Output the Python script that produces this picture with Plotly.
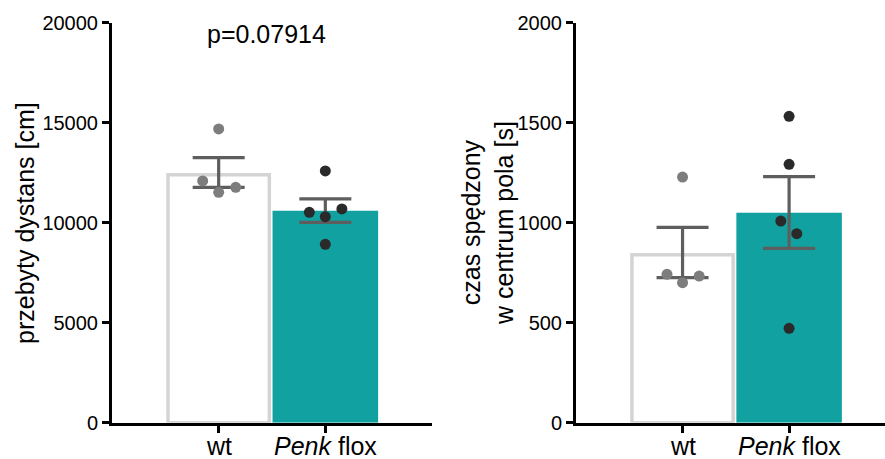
import plotly.graph_objects as go

# ---------------- data ----------------
groups = ["wt", "Penk flox"]
tick_text = ["wt", "<i>Penk</i> flox"]

# panel 1: distance travelled [cm]
dist_mean = [12400, 10600]
dist_err_plus = [850, 590]
dist_err_minus = [630, 580]
dist_wt = [14690, 12090, 11520, 11770]
dist_flox = [12590, 10520, 10300, 10690, 8920]
dist_ticks = [0, 5000, 10000, 15000, 20000]

# panel 2: time spent in centre [s]
time_mean = [840, 1050]
time_err_plus = [137, 180]
time_err_minus = [115, 178]
time_wt = [1228, 742, 700, 733]
time_flox = [1532, 1292, 1008, 945, 472]
time_ticks = [0, 500, 1000, 1500, 2000]

p_text = "p=0.07914"

# horizontal scatter offsets of individual points (category units)
jit_dist_wt = [0.0, -0.15, 0.0, 0.16]
jit_dist_flox = [0.0, -0.15, 0.0, 0.155, 0.0]
jit_time_wt = [0.0, -0.146, 0.0, 0.156]
jit_time_flox = [0.0, 0.0, -0.078, 0.072, 0.0]

# ---------------- styles ----------------
FONT = "Arial, 'Liberation Sans', sans-serif"
TEAL = "#11a1a0"
OUTLINE = "#d4d4d4"
ERR = "#5e5e5e"
PT_WT = "#7d7d7d"
PT_FLOX = "#2a2a2a"

W, H = 885, 459
y0_px, ytop_px = 422.7, 22.7
ydom = [(H - y0_px) / H, (H - ytop_px) / H]
xlab_y = (H - 445.5) / H

fig = go.Figure()


def add_panel(xa, ya, means, ep, em, pts_wt, pts_flox, jw, jf):
    fig.add_trace(go.Bar(x=[0], y=[means[0]], width=[0.95],
                         marker=dict(color="white", line=dict(color=OUTLINE, width=3.5)),
                         xaxis=xa, yaxis=ya, showlegend=False, hoverinfo="skip"))
    fig.add_trace(go.Bar(x=[1], y=[means[1]], width=[0.99],
                         marker=dict(color=TEAL, line=dict(width=0)),
                         xaxis=xa, yaxis=ya, showlegend=False, hoverinfo="skip"))
    fig.add_trace(go.Scatter(x=[0, 1], y=means, mode="markers",
                             marker=dict(size=0.1, color="rgba(0,0,0,0)"),
                             error_y=dict(type="data", symmetric=False, array=ep, arrayminus=em,
                                          color=ERR, thickness=3.2, width=26),
                             xaxis=xa, yaxis=ya, showlegend=False, hoverinfo="skip"))
    fig.add_trace(go.Scatter(x=[0 + j for j in jw], y=pts_wt, mode="markers",
                             marker=dict(size=11, color=PT_WT),
                             xaxis=xa, yaxis=ya, showlegend=False))
    fig.add_trace(go.Scatter(x=[1 + j for j in jf], y=pts_flox, mode="markers",
                             marker=dict(size=11, color=PT_FLOX),
                             xaxis=xa, yaxis=ya, showlegend=False))


add_panel("x", "y", dist_mean, dist_err_plus, dist_err_minus, dist_wt, dist_flox,
          jit_dist_wt, jit_dist_flox)
add_panel("x2", "y2", time_mean, time_err_plus, time_err_minus, time_wt, time_flox,
          jit_time_wt, jit_time_flox)

xcommon = dict(tickmode="array", tickvals=[0, 1], showticklabels=False,
               showline=True, linecolor="black", linewidth=3,
               ticks="outside", ticklen=7, tickwidth=3, tickcolor="black",
               showgrid=False, zeroline=False, automargin=False)
ycommon = dict(showline=True, linecolor="black", linewidth=3,
               ticks="outside", ticklen=7, tickwidth=3, tickcolor="black",
               showgrid=False, zeroline=False, automargin=False,
               tickfont=dict(family=FONT, size=20, color="black"))

annotations = [
    dict(text=p_text, xref="x", yref="paper", x=0.45, y=(H - 34) / H,
         xanchor="center", yanchor="middle", showarrow=False,
         font=dict(family=FONT, size=25, color="black")),
    dict(text="przebyty dystans [cm]", xref="paper", yref="paper",
         x=25 / W, y=(H - 223) / H, xanchor="center", yanchor="middle",
         textangle=-90, showarrow=False,
         font=dict(family=FONT, size=25, color="black")),
    dict(text="czas spędzony<br>w centrum pola [s]", xref="paper", yref="paper",
         x=487 / W, y=(H - 223) / H, xanchor="center", yanchor="middle",
         textangle=-90, showarrow=False,
         font=dict(family=FONT, size=25, color="black")),
]
for xr in ["x", "x2"]:
    for i, t in enumerate(tick_text):
        annotations.append(dict(text=t, xref=xr, yref="paper", x=i, y=xlab_y,
                                xanchor="center", yanchor="middle", showarrow=False,
                                borderpad=0,
                                font=dict(family=FONT, size=25, color="black")))

fig.update_layout(
    width=W, height=H, autosize=False,
    margin=dict(l=0, r=0, t=0, b=0, pad=0),
    paper_bgcolor="white", plot_bgcolor="white",
    barmode="overlay",
    font=dict(family=FONT, color="black"),
    xaxis=dict(domain=[112 / W, 432 / W], range=[-1, 2], anchor="y", **xcommon),
    yaxis=dict(domain=ydom, range=[0, 20000], tickvals=dist_ticks,
               ticktext=[str(v) for v in dist_ticks], anchor="x", **ycommon),
    xaxis2=dict(domain=[576 / W, 1.0], range=[-1, 1.9], anchor="y2", **xcommon),
    yaxis2=dict(domain=ydom, range=[0, 2000], tickvals=time_ticks,
                ticktext=[str(v) for v in time_ticks], anchor="x2", **ycommon),
    annotations=annotations,
)

fig.write_html("out.html", config={"responsive": False, "displayModeBar": False},
               post_script="document.body.style.margin='0';document.body.style.overflow='hidden';")
